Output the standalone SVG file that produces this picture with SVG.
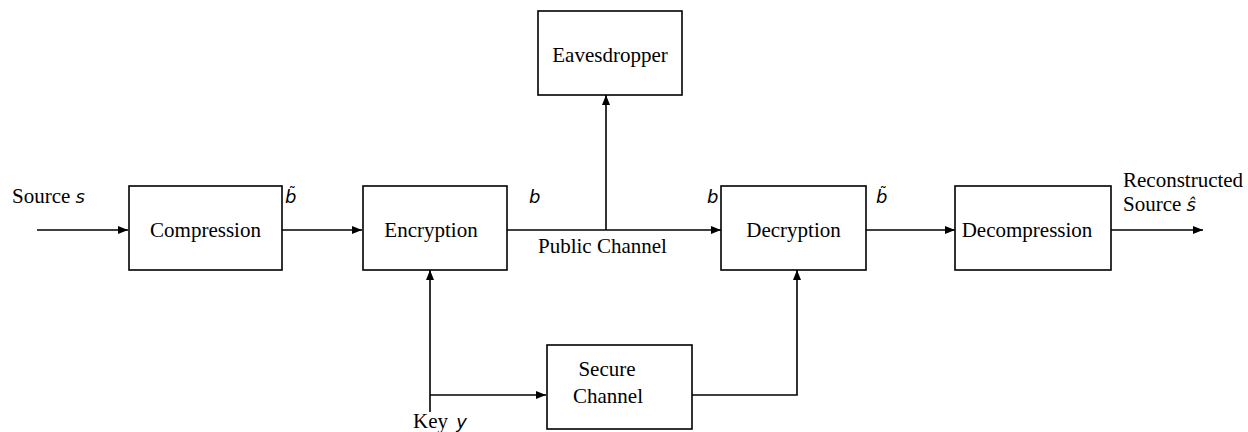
<svg xmlns="http://www.w3.org/2000/svg" width="1248" height="432" viewBox="0 0 1248 432">
<defs>
<style>
.box{fill:#fff;stroke:#000;stroke-width:1.6}
.lbl{font-family:"Liberation Serif","Times New Roman",serif;font-size:21px;fill:#000}
.mth{font-family:"DejaVu Sans",sans-serif;font-style:italic;font-size:18px;fill:#000}
.tl{font-style:normal;font-size:15px}
.ln{fill:none;stroke:#000;stroke-width:1.6}
</style>
<marker id="ah" viewBox="0 0 10 8" refX="10" refY="4" markerWidth="10" markerHeight="8" markerUnits="userSpaceOnUse" orient="auto">
<path d="M0,0 L10,4 L0,8 z" fill="#000"/>
</marker>
</defs>
<g id="connectors">
<path class="ln" d="M37,230 H128" marker-end="url(#ah)"/>
<path class="ln" d="M282,230 H362" marker-end="url(#ah)"/>
<path class="ln" d="M507,230 H721" marker-end="url(#ah)"/>
<path class="ln" d="M866,230 H955" marker-end="url(#ah)"/>
<path class="ln" d="M1111,230 H1203" marker-end="url(#ah)"/>
<path class="ln" d="M606,230 V95" marker-end="url(#ah)"/>
<path class="ln" d="M430,412 V270" marker-end="url(#ah)"/>
<path class="ln" d="M430,395 H546" marker-end="url(#ah)"/>
<path class="ln" d="M692,395 H797 V270" marker-end="url(#ah)"/>
</g>
<g id="compression">
<rect class="box" x="129" y="186" width="153" height="84"/>
<text class="lbl" x="205.5" y="237" text-anchor="middle">Compression</text>
</g>
<g id="encryption">
<rect class="box" x="363" y="186" width="144" height="84"/>
<text class="lbl" x="431" y="237" text-anchor="middle">Encryption</text>
</g>
<g id="decryption">
<rect class="box" x="721" y="186" width="145" height="84"/>
<text class="lbl" x="793.5" y="237" text-anchor="middle">Decryption</text>
</g>
<g id="decompression">
<rect class="box" x="955" y="186" width="156" height="84"/>
<text class="lbl" x="1027" y="237" text-anchor="middle">Decompression</text>
</g>
<g id="eavesdropper">
<rect class="box" x="538" y="11" width="144" height="84"/>
<text class="lbl" x="610" y="62" text-anchor="middle">Eavesdropper</text>
</g>
<g id="secure-channel">
<rect class="box" x="547" y="345" width="145" height="84"/>
<text class="lbl" x="607" y="376" text-anchor="middle">Secure</text>
<text class="lbl" x="608" y="403" text-anchor="middle">Channel</text>
</g>
<g id="labels">
<text class="lbl" x="12" y="203">Source <tspan class="mth">s</tspan></text>
<text class="mth" x="285" y="203">b<tspan class="tl" dx="-8" dy="-5">˜</tspan></text>
<text class="mth" x="529" y="203">b</text>
<text class="mth" x="707" y="203">b</text>
<text class="mth" x="876" y="203">b<tspan class="tl" dx="-8" dy="-5">˜</tspan></text>
<text class="lbl" x="538" y="253">Public Channel</text>
<text class="lbl" x="1123" y="187">Reconstructed</text>
<text class="lbl" x="1123" y="211">Source <tspan class="mth">ŝ</tspan></text>
<text class="lbl" x="413" y="428">Key <tspan class="mth" dx="3">y</tspan></text>
</g>
</svg>
